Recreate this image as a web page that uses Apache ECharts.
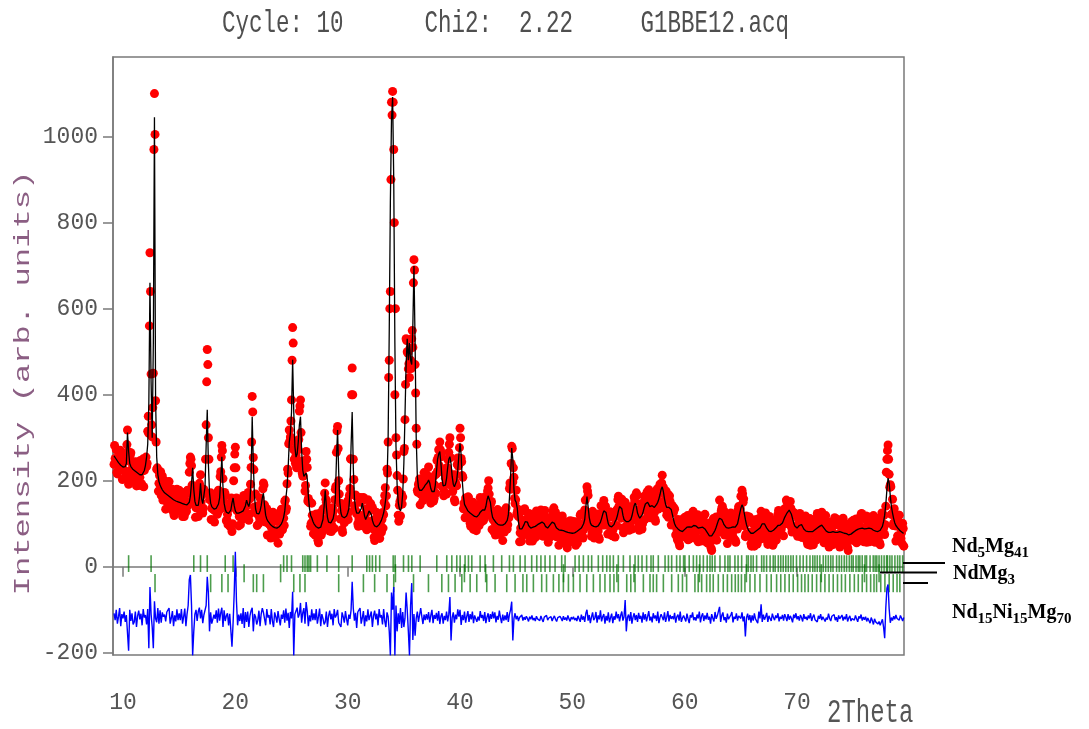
<!DOCTYPE html>
<html>
<head>
<meta charset="utf-8">
<title>Rietveld refinement - G1BBE12</title>
<script src="https://cdn.jsdelivr.net/npm/echarts@6/dist/echarts.min.js"></script>
<style>
html, body { margin: 0; padding: 0; background: #ffffff; }
#chart { width: 1089px; height: 729px; }
</style>
</head>
<body>
<div id="chart"></div>
<script>
// Powder pattern sampled on a regular 2-theta grid (start 9.2 deg, step 0.1 deg);
// the observed counts also have a second, interleaved set at the half steps.
const twoThetaStart = 9.2;
const twoThetaStep = 0.1;
const twoThetaMidStart = 9.25;

// Observed intensity at the main grid points, one row per degree
const yObs = [
  238, 252, 272, 216, 250, 227, 264, 226,
  260, 224, 245, 210, 318, 192, 222, 265, 227, 202,
  210, 244, 188, 224, 242, 208, 227, 188, 251, 224,
  244, 233, 315, 310, 730, 448, 302, 450, 1100, 386,
  227, 225, 194, 216, 166, 211, 165, 188, 134, 188,
  182, 198, 142, 158, 180, 126, 163, 141, 180, 143,
  178, 141, 160, 117, 150, 165, 127, 176, 143, 220,
  255, 235, 150, 160, 178, 137, 155, 117, 194, 214,
  166, 125, 180, 173, 330, 505, 300, 156, 172, 136,
  108, 144, 130, 162, 122, 178, 150, 221, 282, 205,
  164, 168, 107, 122, 146, 96, 140, 82, 150, 230,
  278, 160, 136, 95, 130, 147, 110, 162, 132, 118,
  141, 168, 108, 158, 231, 396, 254, 139, 169, 124,
  129, 101, 160, 130, 126, 195, 144, 104, 135, 102,
  74, 109, 92, 120, 74, 123, 80, 106, 55, 113,
  112, 134, 86, 113, 152, 130, 193, 218, 318, 302,
  388, 556, 272, 250, 259, 282, 272, 362, 388, 246,
  211, 232, 176, 268, 231, 159, 149, 94, 148, 106,
  108, 74, 123, 79, 56, 108, 94, 80, 134, 136,
  195, 150, 111, 130, 83, 134, 96, 128, 89, 180,
  266, 326, 200, 148, 147, 87, 123, 102, 143, 110,
  153, 127, 182, 250, 462, 250, 142, 167, 123, 100,
  111, 150, 103, 154, 161, 112, 124, 86, 156, 130,
  140, 100, 138, 88, 61, 111, 95, 79, 122, 99,
  80, 126, 121, 166, 142, 227, 290, 480, 640, 1080,
  1105, 970, 400, 300, 212, 120, 143, 118, 168, 162,
  268, 342, 530, 500, 460, 440, 480, 530, 510, 714,
  470, 322, 178, 191, 204, 169, 192, 154, 219, 190,
  200, 174, 232, 183, 148, 193, 173, 159, 214, 216,
  222, 272, 290, 266, 187, 220, 176, 206, 169, 250,
  266, 300, 190, 208, 214, 156, 196, 188, 253, 252,
  322, 252, 212, 135, 149, 160, 117, 162, 125, 101,
  109, 143, 87, 123, 142, 110, 132, 96, 161, 131,
  140, 108, 162, 128, 121, 183, 169, 134, 152, 111,
  82, 116, 99, 126, 80, 129, 87, 113, 61, 118,
  116, 137, 88, 118, 182, 180, 280, 197, 208, 147,
  178, 127, 117, 58, 90, 108, 74, 130, 103, 85,
  90, 118, 60, 96, 118, 86, 107, 68, 130, 98,
  108, 79, 132, 92, 71, 118, 96, 75, 114, 89,
  69, 110, 100, 131, 83, 127, 80, 103, 50, 105,
  101, 118, 64, 81, 104, 51, 88, 67, 107, 70,
  106, 70, 91, 50, 86, 104, 68, 120, 88, 71,
  86, 132, 108, 186, 166, 109, 116, 71, 129, 94,
  101, 71, 123, 83, 64, 122, 114, 106, 154, 128,
  98, 122, 96, 121, 75, 125, 85, 114, 69, 130,
  134, 164, 120, 142, 157, 90, 118, 150, 133, 97,
  133, 98, 122, 88, 134, 162, 130, 172, 123, 94,
  99, 137, 88, 134, 164, 140, 164, 124, 179, 140,
  148, 120, 170, 126, 106, 163, 152, 142, 192, 176,
  213, 185, 154, 171, 120, 168, 128, 152, 97, 142,
  126, 134, 74, 88, 110, 55, 92, 71, 110, 76,
  115, 82, 104, 63, 97, 112, 74, 126, 94, 73,
  81, 114, 58, 96, 117, 86, 106, 64, 122, 85,
  88, 54, 102, 58, 38, 93, 82, 69, 116, 96,
  80, 155, 109, 136, 86, 130, 84, 107, 54, 110,
  106, 125, 72, 91, 115, 62, 101, 88, 140, 117,
  164, 178, 150, 95, 70, 118, 72, 116, 78, 54,
  64, 100, 48, 88, 110, 80, 102, 64, 129, 100,
  110, 78, 125, 78, 52, 101, 84, 66, 107, 81,
  60, 100, 89, 122, 79, 129, 88, 118, 72, 135,
  136, 151, 108, 130, 152, 92, 120, 90, 123, 84,
  118, 84, 108, 70, 102, 113, 70, 117, 81, 58,
  68, 104, 50, 88, 108, 78, 100, 62, 124, 92,
  102, 74, 127, 83, 56, 104, 85, 65, 104, 76,
  52, 91, 78, 107, 62, 111, 70, 97, 46, 101,
  96, 113, 58, 76, 99, 45, 82, 62, 104, 70,
  108, 74, 96, 56, 91, 108, 71, 122, 88, 65,
  74, 110, 57, 96, 116, 84, 103, 61, 119, 84,
  91, 60, 112, 71, 51, 106, 96, 89, 75, 141,
  250, 283, 215, 191, 122, 157, 102, 118, 60, 112,
  105, 120, 63, 79, 101, 48
];

// Observed intensity at the half steps (9.25, 9.35, ...)
const yObsMid = [
  282, 244, 220, 252, 226, 271, 237, 203,
  226, 262, 212, 284, 268, 254, 260, 215, 237, 199,
  243, 209, 223, 189, 231, 247, 193, 223, 186, 242,
  255, 240, 350, 560, 640, 330, 370, 970, 1005, 290,
  230, 176, 212, 221, 171, 155, 201, 167, 183, 149,
  197, 169, 145, 133, 167, 119, 174, 178, 143, 154,
  129, 162, 173, 138, 117, 153, 130, 178, 149, 240,
  250, 190, 165, 180, 115, 144, 166, 135, 187, 150,
  172, 136, 171, 250, 430, 470, 250, 168, 110, 150,
  133, 104, 153, 172, 133, 131, 210, 255, 270, 148,
  173, 136, 109, 98, 135, 93, 160, 100, 200, 262,
  230, 130, 150, 117, 98, 135, 115, 166, 140, 118,
  144, 173, 122, 192, 290, 360, 226, 134, 139, 96,
  142, 114, 140, 123, 181, 190, 111, 123, 74, 116,
  98, 67, 113, 127, 81, 68, 118, 86, 106, 76,
  130, 109, 94, 96, 155, 136, 227, 286, 292, 339,
  480, 520, 250, 240, 230, 290, 296, 374, 312, 218,
  211, 239, 189, 250, 153, 152, 151, 101, 120, 77,
  118, 82, 96, 62, 106, 125, 74, 111, 91, 171,
  157, 97, 127, 136, 91, 82, 137, 114, 156, 187,
  316, 275, 169, 111, 131, 80, 134, 140, 108, 125,
  110, 166, 251, 400, 400, 203, 133, 164, 126, 94,
  120, 161, 117, 155, 94, 116, 135, 101, 136, 105,
  147, 103, 108, 69, 110, 127, 74, 104, 66, 117,
  110, 90, 150, 184, 165, 218, 440, 600, 900, 1050,
  1080, 800, 600, 260, 178, 106, 152, 161, 146, 204,
  275, 424, 526, 497, 472, 508, 461, 549, 660, 690,
  404, 285, 173, 195, 144, 178, 203, 166, 197, 165,
  214, 187, 202, 160, 194, 207, 153, 190, 171, 247,
  254, 235, 272, 256, 186, 165, 216, 193, 231, 222,
  285, 254, 209, 175, 199, 151, 214, 238, 234, 277,
  300, 244, 208, 147, 114, 145, 118, 162, 128, 94,
  116, 150, 94, 130, 84, 119, 144, 108, 139, 105,
  151, 119, 140, 119, 176, 200, 138, 147, 87, 124,
  106, 74, 119, 133, 87, 75, 125, 93, 111, 81,
  133, 111, 98, 114, 195, 240, 275, 230, 159, 156,
  122, 134, 122, 79, 59, 98, 81, 135, 109, 76,
  94, 124, 67, 105, 60, 94, 117, 79, 107, 73,
  120, 89, 107, 76, 118, 131, 72, 98, 57, 107,
  96, 72, 122, 137, 88, 70, 116, 82, 99, 67,
  116, 90, 67, 56, 91, 44, 99, 105, 70, 82,
  58, 92, 105, 73, 55, 93, 73, 123, 94, 67,
  99, 155, 128, 176, 95, 110, 123, 80, 104, 67,
  113, 81, 98, 68, 117, 142, 97, 134, 97, 141,
  117, 76, 115, 128, 83, 72, 124, 97, 121, 96,
  156, 141, 126, 113, 137, 79, 128, 131, 97, 109,
  85, 122, 140, 116, 108, 153, 130, 166, 123, 85,
  108, 147, 100, 147, 110, 150, 174, 131, 152, 114,
  161, 129, 143, 111, 158, 181, 134, 171, 140, 195,
  179, 137, 170, 176, 127, 115, 165, 131, 142, 98,
  137, 103, 76, 63, 97, 49, 104, 109, 75, 90,
  69, 105, 119, 85, 65, 100, 79, 129, 99, 66,
  88, 121, 66, 105, 60, 94, 115, 73, 97, 57,
  98, 62, 75, 43, 90, 112, 63, 97, 62, 116,
  109, 83, 130, 141, 91, 74, 121, 87, 104, 72,
  123, 98, 77, 67, 103, 57, 117, 132, 111, 135,
  120, 170, 158, 110, 76, 102, 73, 116, 81, 48,
  72, 109, 57, 97, 53, 89, 113, 77, 108, 75,
  121, 86, 97, 60, 101, 117, 62, 91, 50, 99,
  87, 62, 113, 131, 87, 76, 128, 101, 126, 100,
  155, 133, 114, 105, 136, 81, 127, 125, 86, 95,
  71, 108, 124, 91, 68, 99, 73, 118, 85, 52,
  76, 112, 58, 96, 51, 87, 111, 73, 101, 67,
  115, 85, 100, 65, 104, 119, 62, 89, 46, 92,
  78, 51, 99, 114, 69, 57, 108, 77, 95, 62,
  111, 84, 62, 51, 86, 38, 94, 101, 69, 83,
  61, 97, 111, 78, 59, 96, 75, 124, 91, 58,
  82, 118, 65, 104, 58, 91, 112, 70, 94, 57,
  102, 70, 86, 56, 102, 125, 79, 120, 98, 220,
  270, 250, 185, 186, 122, 96, 135, 95, 108, 72,
  120, 91, 66, 54, 89
];

// Calculated profile
const yCalc = [
  258, 254, 250, 246, 242, 239, 236, 234,
  232, 232, 233, 240, 312, 268, 240, 233, 229, 226,
  224, 222, 220, 218, 216, 214, 213, 214, 217, 224,
  236, 255, 285, 380, 660, 430, 300, 520, 1045, 390,
  255, 215, 198, 190, 184, 179, 175, 172, 170, 168,
  166, 164, 162, 160, 158, 156, 155, 153, 152, 151,
  150, 149, 148, 147, 146, 145, 145, 144, 145, 150,
  165, 195, 230, 180, 152, 143, 141, 143, 160, 194,
  158, 147, 150, 185, 280, 365, 240, 172, 148, 140,
  136, 134, 134, 136, 140, 146, 160, 205, 256, 185,
  148, 134, 127, 124, 124, 126, 132, 148, 160, 142,
  130, 125, 124, 125, 126, 127, 128, 130, 134, 142,
  155, 146, 140, 152, 205, 349, 240, 165, 135, 124,
  121, 123, 130, 142, 160, 171, 142, 120, 111, 106,
  102, 99, 96, 94, 92, 91, 90, 90, 91, 93,
  96, 100, 106, 115, 130, 160, 185, 230, 290, 310,
  360, 481, 360, 280, 255, 262, 290, 330, 349, 270,
  225, 210, 208, 218, 205, 165, 135, 120, 114, 106,
  100, 96, 93, 91, 90, 90, 92, 96, 110, 140,
  178, 140, 115, 104, 101, 102, 106, 112, 125, 160,
  250, 318, 220, 150, 125, 117, 115, 114, 115, 118,
  125, 135, 170, 280, 360, 230, 160, 135, 125, 124,
  125, 128, 135, 148, 135, 118, 110, 112, 122, 130,
  132, 122, 108, 100, 95, 93, 93, 95, 98, 103,
  108, 116, 125, 140, 160, 195, 300, 550, 850, 1040,
  1092, 900, 520, 280, 190, 150, 135, 130, 140, 170,
  240, 350, 470, 530, 480, 520, 480, 470, 560, 699,
  520, 300, 210, 185, 178, 175, 178, 180, 185, 190,
  192, 196, 202, 195, 182, 175, 171, 175, 190, 220,
  250, 262, 268, 240, 205, 188, 186, 190, 205, 230,
  250, 256, 240, 210, 192, 186, 188, 200, 225, 260,
  287, 260, 200, 165, 145, 140, 135, 130, 127, 125,
  123, 121, 119, 117, 116, 116, 118, 122, 127, 131,
  132, 130, 132, 140, 155, 165, 167, 150, 128, 115,
  110, 106, 103, 100, 98, 97, 97, 97, 97, 98,
  100, 103, 108, 120, 160, 210, 276, 250, 180, 155,
  150, 135, 105, 88, 86, 88, 92, 98, 105, 109,
  104, 96, 92, 90, 92, 92, 93, 94, 96, 98,
  100, 101, 102, 104, 105, 100, 94, 91, 90, 93,
  97, 100, 104, 105, 101, 95, 90, 87, 86, 85,
  85, 84, 84, 83, 82, 81, 80, 79, 79, 78,
  78, 78, 79, 80, 82, 84, 86, 88, 90, 95,
  100, 110, 140, 163, 140, 115, 102, 97, 95, 94,
  93, 93, 93, 95, 98, 104, 112, 122, 130, 132,
  126, 112, 100, 95, 93, 93, 95, 98, 105, 110,
  118, 130, 140, 144, 135, 120, 110, 106, 105, 105,
  105, 106, 110, 118, 130, 142, 148, 140, 125, 118,
  113, 115, 120, 128, 138, 146, 150, 150, 145, 140,
  140, 142, 140, 138, 140, 145, 150, 158, 168, 180,
  186, 175, 158, 145, 138, 136, 138, 136, 133, 122,
  110, 100, 94, 90, 88, 85, 84, 83, 82, 84,
  87, 90, 92, 93, 93, 92, 92, 94, 96, 97,
  95, 92, 90, 90, 91, 92, 92, 90, 88, 85,
  80, 76, 72, 70, 72, 75, 80, 85, 92, 100,
  108, 113, 113, 110, 104, 98, 94, 91, 90, 90,
  90, 91, 92, 93, 93, 92, 93, 100, 112, 125,
  136, 144, 138, 125, 110, 98, 90, 84, 80, 78,
  78, 78, 80, 82, 84, 86, 88, 90, 95, 100,
  102, 100, 95, 90, 86, 83, 82, 82, 83, 85,
  88, 90, 93, 96, 97, 97, 98, 102, 108, 115,
  120, 125, 128, 132, 130, 122, 112, 102, 95, 92,
  90, 92, 96, 100, 98, 93, 88, 85, 83, 82,
  82, 82, 82, 82, 82, 84, 86, 88, 90, 92,
  94, 96, 97, 95, 90, 86, 83, 81, 80, 80,
  80, 81, 82, 81, 80, 79, 80, 81, 82, 81,
  80, 79, 78, 78, 77, 75, 74, 74, 76, 78,
  80, 82, 84, 86, 87, 88, 89, 90, 90, 89,
  88, 88, 89, 90, 90, 90, 89, 87, 85, 84,
  83, 82, 82, 83, 85, 88, 94, 105, 120, 145,
  180, 206, 195, 165, 140, 125, 112, 102, 96, 92,
  89, 86, 83, 81, 79, 78
];

// Difference curve (Yobs - Ycalc), plotted around its offset baseline
const yDiff = [
  -108, -124, -100, -132, -116, -96, -138, -110,
  -120, -104, -128, -112, -110, -195, -100, -126, -108, -134,
  -128, -104, -140, -114, -102, -122, -109, -136, -98, -118,
  -112, -134, -98, -189, -47, -110, -140, -189, -80, -120,
  -129, -96, -132, -101, -130, -106, -116, -111, -127, -105,
  -107, -96, -132, -119, -103, -138, -113, -127, -99, -124,
  -108, -124, -98, -132, -116, -97, -138, -110, -90, -30,
  -19, -90, -206, -150, -110, -100, -126, -104, -95, -120,
  -100, -131, -112, -110, -90, -23, -60, -150, -106, -132,
  -136, -111, -121, -101, -130, -97, -125, -107, -95, -140,
  -101, -126, -114, -108, -136, -109, -113, -186, -130, -60,
  35, -80, -136, -111, -126, -108, -133, -96, -142, -105,
  -128, -104, -140, -114, -102, -95, -150, -110, -116, -134,
  -124, -102, -138, -110, -96, -106, -109, -136, -98, -118,
  -112, -134, -98, -126, -140, -106, -116, -130, -103, -121,
  -136, -111, -121, -101, -130, -97, -125, -107, -142, -105,
  -120, -58, -206, -110, -103, -95, -118, -110, -84, -130,
  -107, -96, -132, -82, -103, -138, -113, -127, -99, -124,
  -108, -124, -98, -132, -116, -97, -138, -110, -120, -134,
  -128, -104, -140, -114, -102, -122, -109, -136, -98, -118,
  -112, -100, -130, -126, -140, -106, -116, -130, -103, -121,
  -136, -111, -121, -101, -35, -97, -125, -107, -142, -105,
  -107, -96, -132, -119, -103, -138, -113, -127, -99, -124,
  -128, -104, -140, -114, -102, -122, -109, -136, -98, -118,
  -112, -134, -98, -126, -140, -106, -116, -150, -206, -60,
  -100, -47, -206, -90, -150, -108, -133, -96, -142, -105,
  -140, -120, -60, -100, -150, -206, -90, -38, -170, -110,
  -160, -120, -104, -128, -112, -96, -116, -133, -111, -124,
  -110, -123, -105, -129, -113, -100, -131, -112, -121, -107,
  -125, -103, -133, -115, -108, -132, -114, -124, -104, -127,
  -110, -70, -171, -118, -106, -130, -111, -122, -99, -116,
  -100, -135, -112, -124, -104, -130, -115, -103, -128, -110,
  -122, -104, -131, -113, -109, -128, -116, -125, -103, -119,
  -112, -126, -105, -131, -117, -108, -128, -110, -121, -104,
  -120, -106, -129, -114, -123, -102, -118, -131, -111, -125,
  -113, -124, -105, -128, -110, -100, -81, -171, -120, -108,
  -122, -114, -126, -118, -121, -112, -125, -117, -123, -115,
  -120, -127, -116, -122, -113, -124, -119, -126, -115, -121,
  -118, -125, -114, -122, -128, -117, -121, -113, -124, -119,
  -123, -116, -126, -119, -114, -122, -127, -118, -121, -115,
  -120, -126, -115, -123, -118, -125, -113, -121, -127, -117,
  -122, -116, -124, -119, -126, -114, -121, -128, -111, -123,
  -115, -128, -108, -100, -125, -112, -131, -117, -106, -124,
  -119, -105, -130, -113, -122, -101, -127, -116, -110, -132,
  -114, -125, -106, -129, -118, -109, -131, -115, -123, -104,
  -120, -110, -127, -113, -104, -125, -116, -77, -150, -118,
  -111, -126, -105, -132, -117, -108, -124, -112, -128, -107,
  -121, -114, -130, -106, -123, -110, -127, -115, -103, -125,
  -116, -129, -108, -120, -113, -126, -104, -131, -118, -110,
  -110, -124, -106, -128, -117, -103, -127, -112, -121, -115,
  -122, -107, -130, -116, -111, -125, -104, -128, -119, -113,
  -114, -127, -109, -121, -131, -112, -118, -106, -124, -117,
  -125, -111, -120, -104, -129, -115, -108, -126, -113, -122,
  -107, -123, -116, -132, -110, -119, -127, -105, -121, -114,
  -118, -93, -128, -113, -106, -124, -117, -130, -109, -122,
  -126, -112, -105, -129, -116, -121, -108, -125, -114, -110,
  -120, -106, -127, -115, -162, -118, -109, -124, -112, -130,
  -113, -125, -108, -121, -117, -131, -104, -120, -87, -128,
  -111, -123, -116, -107, -128, -114, -120, -126, -109, -118,
  -124, -113, -119, -108, -127, -116, -121, -112, -125, -110,
  -117, -126, -110, -123, -114, -120, -129, -111, -119, -108,
  -122, -115, -125, -112, -118, -127, -110, -121, -116, -124,
  -113, -120, -108, -126, -117, -111, -123, -119, -128, -114,
  -121, -110, -124, -116, -112, -127, -118, -123, -109, -120,
  -126, -115, -119, -111, -124, -117, -128, -113, -121, -118,
  -112, -125, -116, -122, -110, -127, -119, -114, -126, -120,
  -118, -124, -113, -121, -128, -115, -120, -111, -125, -117,
  -123, -116, -127, -119, -122, -131, -118, -125, -134, -121,
  -128, -124, -133, -127, -136, -129, -122, -140, -166, -95,
  -50, -41, -98, -130, -118, -125, -115, -122, -112, -120,
  -116, -124, -113, -119, -126, -118
];

// Bragg reflection positions (2-theta) for each refined phase
const reflNd5Mg41 = [
  10.5, 12.5, 16.3, 16.9, 17.5, 19.1, 19.8, 24.3, 24.6, 25.0, 26.0, 26.2, 26.4, 26.55, 26.7,
  27.3, 28.15, 29.2, 30.4, 31.7, 31.95, 32.2, 32.5, 32.85, 34.05, 34.22, 34.97, 35.41, 35.71,
  36.45, 37.93, 38.82, 39.27, 39.71, 40.01, 40.45, 40.75, 41.05, 41.79, 42.23, 42.97, 43.71,
  44.4, 44.75, 45.35, 45.79, 46.38, 46.83, 47.2, 47.57, 48.0, 48.46, 49.05, 49.35, 50.24, 50.6,
  50.98, 51.42, 51.72, 52.31, 52.7, 53.06, 53.35, 53.65, 54.09, 54.54, 55.13, 55.58, 55.87,
  56.2, 56.61, 57.0, 57.2, 57.65, 58.25, 58.55, 58.84, 59.28, 59.58, 59.9, 60.02, 60.4, 60.77,
  61.06, 61.35, 61.66, 62.0, 62.25, 62.45, 62.69, 63.14, 63.58, 63.85, 64.03, 64.47, 64.75,
  65.07, 65.51, 65.66, 65.9, 66.1, 66.4, 66.85, 67.05, 67.29, 67.6, 67.88, 68.05, 68.33, 68.55,
  68.77, 69.0, 69.22, 69.45, 69.66, 69.95, 70.26, 70.55, 70.85, 71.15, 71.4, 71.59, 71.8, 72.03,
  72.33, 72.55, 72.78, 73.0, 73.2, 73.52, 73.75, 73.96, 74.2, 74.41, 74.65, 74.85, 75.0, 75.25,
  75.45, 75.59, 75.8, 76.05, 76.19, 76.5, 76.78, 76.95, 77.1, 77.3, 77.52, 77.75, 77.97, 78.05,
  78.26, 78.45, 78.71, 78.95, 79.15, 79.4
];
const reflNdMg3 = [
  20.78, 24.03, 34.25, 40.39, 42.28, 49.21, 53.96, 55.48, 61.31, 65.49, 72.16, 76.0, 77.3
];
const reflNd15Ni15Mg70 = [
  12.85, 17.8, 18.8, 19.35, 21.6, 21.9, 22.5, 25.2, 25.75, 26.2, 29.2, 31.4, 32.4, 33.5, 34.1,
  35.86, 37.19, 38.38, 38.97, 39.56, 40.16, 40.9, 41.49, 42.38, 43.12, 44.16, 44.9, 45.6, 45.94,
  46.53, 47.27, 47.7, 48.31, 48.8, 49.2, 49.65, 50.09, 50.68, 51.28, 51.87, 52.46, 52.9, 53.35,
  53.7, 54.09, 54.84, 55.2, 55.58, 56.32, 56.91, 57.2, 57.5, 58.1, 58.84, 59.43, 59.8, 60.17,
  60.91, 61.2, 61.51, 61.95, 62.25, 62.54, 62.99, 63.43, 63.8, 64.18, 64.5, 64.77, 65.05, 65.36,
  65.81, 66.25, 66.7, 67.29, 67.7, 68.18, 68.55, 68.92, 69.3, 69.66, 70.05, 70.4, 70.7, 71.0,
  71.35, 71.74, 72.1, 72.48, 72.85, 73.22, 73.6, 73.96, 74.3, 74.7, 75.1, 75.45, 75.8, 76.19,
  76.55, 76.85, 77.08, 77.45, 77.82, 78.2, 78.56, 78.9, 79.15
];

const xTickValues = [10, 20, 30, 40, 50, 60, 70];
const yTickValues = [-200, 0, 200, 400, 600, 800, 1000];
const headerText = 'Cycle: 10      Chi2:  2.22     G1BBE12.acq';

// ---- build series data ----
const n = Math.min(yObs.length, yCalc.length, yDiff.length);
const gridAt = (start, i) => +(start + twoThetaStep * i).toFixed(2);
const twoTheta = [];
for (let i = 0; i < n; i++) twoTheta.push(gridAt(twoThetaStart, i));
const obsData = twoTheta.map((t, i) => [t, yObs[i]])
  .concat(yObsMid.map((v, i) => [gridAt(twoThetaMidStart, i), v]));
const calcData = twoTheta.map((t, i) => [t, yCalc[i]]);
const diffData = twoTheta.map((t, i) => [t, yDiff[i]]);

// Each phase gets its own row of tick marks just below zero
const phases = [
  { name: 'Nd5Mg41', refl: reflNd5Mg41, top: 27, bottom: -12 },
  { name: 'NdMg3', refl: reflNdMg3, top: 6, bottom: -36 },
  { name: 'Nd15Ni15Mg70', refl: reflNd15Ni15Mg70, top: -17, bottom: -59 }
];

const monoFont = '"Liberation Mono", "Courier New", monospace';
const axisGray = '#7a7a7a';
const labelGray = '#555555';

const tickSeries = phases.map(ph => ({
  type: 'custom',
  name: ph.name,
  silent: true,
  z: 3,
  data: ph.refl.map(p => [p, ph.top, ph.bottom]),
  encode: { x: 0, y: [1, 2] },
  renderItem: (params, api) => {
    const a = api.coord([api.value(0), api.value(1)]);
    const b = api.coord([api.value(0), api.value(2)]);
    return {
      type: 'line',
      shape: { x1: a[0], y1: a[1], x2: b[0], y2: b[1] },
      style: { stroke: 'rgba(0,115,0,0.7)', lineWidth: 1.6 }
    };
  }
}));

const richLegend = {
  n: { fontFamily: 'Liberation Serif', fontWeight: 'bold', fontSize: 20, lineHeight: 28, verticalAlign: 'middle', fill: '#000', color: '#000' },
  s: { fontFamily: 'Liberation Serif', fontWeight: 'bold', fontSize: 15, lineHeight: 28, verticalAlign: 'bottom', fill: '#000', color: '#000' }
};

function legendText(x, y, text) {
  return {
    type: 'text', x: x, y: y, z: 10,
    style: {
      text: text, rich: richLegend,
      align: 'left', verticalAlign: 'middle',
      textAlign: 'left', textVerticalAlign: 'middle'
    }
  };
}

const chart = echarts.init(document.getElementById('chart'), null, { renderer: 'canvas' });

chart.setOption({
  animation: false,
  backgroundColor: '#ffffff',
  grid: {
    left: 113, right: 185, top: 57, bottom: 74,
    show: true, borderColor: axisGray, borderWidth: 1.5, backgroundColor: 'transparent'
  },
  xAxis: {
    type: 'value',
    min: 9.11, max: 79.52,
    splitLine: { show: false },
    axisLine: { lineStyle: { color: axisGray, width: 1.5 } },
    axisTick: { customValues: xTickValues, length: 10, lineStyle: { color: axisGray, width: 1.5 } },
    axisLabel: {
      customValues: xTickValues, margin: 36,
      fontFamily: monoFont, fontSize: 23, color: labelGray,
      formatter: v => String(v)
    }
  },
  yAxis: {
    type: 'value',
    min: -205, max: 1185,
    splitLine: { show: false },
    axisLine: { show: true, lineStyle: { color: axisGray, width: 1.5 } },
    axisTick: { show: true, customValues: yTickValues, length: 10, lineStyle: { color: axisGray, width: 1.5 } },
    axisLabel: {
      customValues: yTickValues, margin: 15,
      fontFamily: monoFont, fontSize: 23, color: labelGray,
      formatter: v => String(v)
    }
  },
  graphic: [
    {
      type: 'text', x: 222, y: 24, scaleY: 1.4, z: 10,
      style: {
        text: headerText, font: '22.5px ' + monoFont, fill: '#4f4f4f',
        align: 'left', verticalAlign: 'middle', textAlign: 'left', textVerticalAlign: 'middle'
      }
    },
    {
      type: 'text', x: 23, y: 383, rotation: Math.PI / 2, scaleX: 1.43, z: 10,
      style: {
        text: 'Intensity (arb. units)', font: '22.5px ' + monoFont, fill: '#8b5e83',
        align: 'center', verticalAlign: 'middle', textAlign: 'center', textVerticalAlign: 'middle'
      }
    },
    {
      type: 'text', x: 827, y: 713, scaleY: 1.4, z: 10,
      style: {
        text: '2Theta', font: '24px ' + monoFont, fill: labelGray,
        align: 'left', verticalAlign: 'middle', textAlign: 'left', textVerticalAlign: 'middle'
      }
    },
    { type: 'line', z: 10, shape: { x1: 903, y1: 563, x2: 945, y2: 563 }, style: { stroke: '#000', lineWidth: 2 } },
    { type: 'line', z: 10, shape: { x1: 880, y1: 572.5, x2: 937, y2: 572.5 }, style: { stroke: '#000', lineWidth: 2 } },
    { type: 'line', z: 10, shape: { x1: 903, y1: 583, x2: 928, y2: 583 }, style: { stroke: '#000', lineWidth: 2 } },
    legendText(952, 547, '{n|Nd}{s|5}{n|Mg}{s|41}'),
    legendText(953, 574, '{n|NdMg}{s|3}'),
    legendText(952, 613, '{n|Nd}{s|15}{n|Ni}{s|15}{n|Mg}{s|70}')
  ],
  series: [
    {
      type: 'scatter', name: 'Yobs', data: obsData,
      symbol: 'circle', symbolSize: 9, z: 2,
      itemStyle: { color: '#ff0000', opacity: 1 },
      silent: true
    },
    {
      type: 'line', name: 'Ycalc', data: calcData,
      showSymbol: false, z: 4,
      lineStyle: { color: '#000000', width: 1.3 },
      silent: true
    },
    {
      type: 'line', name: 'Yobs-Ycalc', data: diffData,
      showSymbol: false, z: 4,
      lineStyle: { color: '#0000ff', width: 1.4 },
      silent: true
    }
  ].concat(tickSeries)
});
</script>
</body>
</html>
